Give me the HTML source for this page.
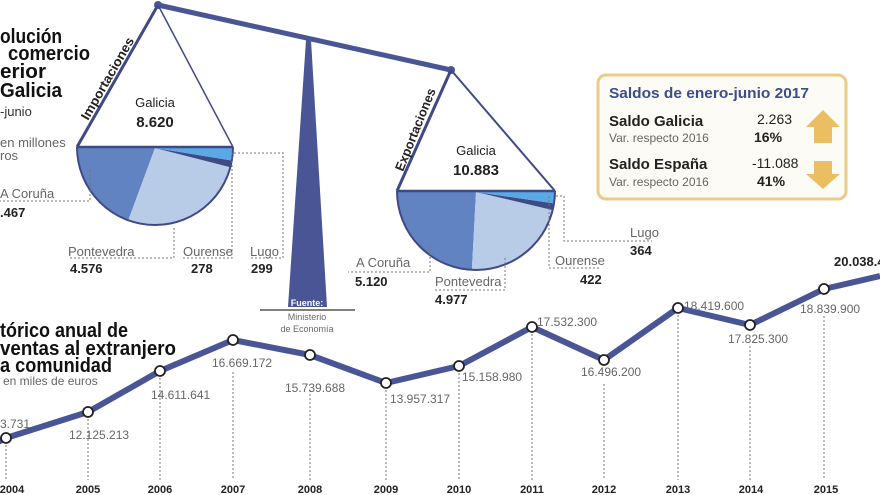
<!DOCTYPE html>
<html><head><meta charset="utf-8"><style>
html,body{margin:0;padding:0;background:#fff;}
svg{display:block;font-family:"Liberation Sans",sans-serif;}
.g{fill:#666;font-size:12px;}
.b{fill:#222;font-weight:bold;font-size:13px;}
.lbl{fill:#666;font-size:13px;}
.yr{fill:#222;font-weight:bold;font-size:11px;text-anchor:middle;}
.t{fill:#111;font-weight:bold;font-size:20px;}
.d{stroke:#777;stroke-width:1;stroke-dasharray:2,2;fill:none;}
</style></head><body>
<svg width="880" height="495" viewBox="0 0 880 495">
<!-- titles -->
<text class="t" x="0" y="43" textLength="62" lengthAdjust="spacingAndGlyphs">olución</text>
<text class="t" x="8" y="60" textLength="82" lengthAdjust="spacingAndGlyphs">comercio</text>
<text class="t" x="0" y="78" textLength="46" lengthAdjust="spacingAndGlyphs">erior</text>
<text class="t" x="0" y="97" textLength="62" lengthAdjust="spacingAndGlyphs">Galicia</text>
<text x="0" y="116" fill="#333" font-size="13">-junio</text>
<text x="0" y="147" fill="#666" font-size="13">en millones</text>
<text x="0" y="160" fill="#666" font-size="13">ros</text>
<text class="lbl" x="0" y="198">A Coruña</text>
<text class="b" x="0" y="217">.467</text>

<!-- pivot -->
<polygon points="306,40 311,40 327,307 288,307" fill="#4a5596"/>
<line x1="260" y1="310" x2="355" y2="310" stroke="#333" stroke-width="1.2"/>
<text x="307" y="306" fill="#fff" font-size="9" font-weight="bold" text-anchor="middle">Fuente:</text>
<text x="307" y="320" fill="#666" font-size="9" text-anchor="middle">Ministerio</text>
<text x="307" y="332" fill="#666" font-size="9" text-anchor="middle">de Economía</text>

<!-- beam -->
<line x1="158" y1="5" x2="451" y2="70" stroke="#4a5596" stroke-width="5"/>
<circle cx="158" cy="5" r="4" fill="#4a5596"/>
<circle cx="451" cy="70" r="4" fill="#4a5596"/>

<!-- left pan -->
<line x1="158" y1="5" x2="77" y2="147" stroke="#3f4a85" stroke-width="3"/>
<line x1="158" y1="5" x2="233" y2="147" stroke="#3f4a85" stroke-width="1.5"/>
<path d="M155,148 L77,148 A78,78 0 0 0 128.3,220.3 Z" fill="#6283c2"/>
<path d="M155,148 L128.3,220.3 A78,78 0 0 0 230.3,167.2 Z" fill="#b8cce8"/>
<path d="M155,148 L230.3,167.2 A78,78 0 0 0 231.8,160.5 Z" fill="#3f4a85"/>
<path d="M155,148 L231.8,160.5 A78,78 0 0 0 233,148 Z" fill="#5aa8e6"/>
<path d="M77,147 A78,78 0 0 0 233,147" fill="none" stroke="#3f4a85" stroke-width="2"/>
<line x1="77" y1="147" x2="233" y2="147" stroke="#3f4a85" stroke-width="2.5"/>
<text x="155" y="107" fill="#222" font-size="13" text-anchor="middle">Galicia</text>
<text x="155" y="127" fill="#222" font-size="15" font-weight="bold" text-anchor="middle">8.620</text>
<text transform="translate(88,121) rotate(-60)" fill="#222" font-size="13" font-weight="bold" textLength="93" lengthAdjust="spacingAndGlyphs">Importaciones</text>

<!-- left leaders -->
<polyline class="d" points="90,170 90,201 0,201"/>
<polyline class="d" points="174,228 174,258 68,258"/>
<polyline class="d" points="232,153 232,258 182,258"/>
<polyline class="d" points="234,153 283,153 283,258 250,258"/>
<text class="lbl" x="68" y="256">Pontevedra</text>
<text class="b" x="70" y="273">4.576</text>
<text class="lbl" x="183" y="256">Ourense</text>
<text class="b" x="191" y="273">278</text>
<text class="lbl" x="250" y="256">Lugo</text>
<text class="b" x="251" y="273">299</text>

<!-- right pan -->
<line x1="451" y1="70" x2="397" y2="191" stroke="#3f4a85" stroke-width="3"/>
<line x1="451" y1="70" x2="555" y2="191" stroke="#3f4a85" stroke-width="2"/>
<path d="M476,192 L397,192 A79,79 0 0 0 471.9,269.9 Z" fill="#6283c2"/>
<path d="M476,192 L471.9,269.9 A79,79 0 0 0 552.7,210.1 Z" fill="#b8cce8"/>
<path d="M476,192 L552.7,210.1 A79,79 0 0 0 554,203.4 Z" fill="#3f4a85"/>
<path d="M476,192 L554,203.4 A79,79 0 0 0 555,192 Z" fill="#5aa8e6"/>
<path d="M397,191 A79,79 0 0 0 555,191" fill="none" stroke="#3f4a85" stroke-width="2"/>
<line x1="397" y1="191" x2="555" y2="191" stroke="#3f4a85" stroke-width="2.5"/>
<text x="476" y="155" fill="#222" font-size="13" text-anchor="middle">Galicia</text>
<text x="476" y="175" fill="#222" font-size="15" font-weight="bold" text-anchor="middle">10.883</text>
<text transform="translate(403,172) rotate(-68)" fill="#222" font-size="13" font-weight="bold" textLength="88" lengthAdjust="spacingAndGlyphs">Exportaciones</text>

<polyline class="d" points="430,245 430,272 348,272"/>
<polyline class="d" points="505,258 505,290 435,290"/>
<polyline class="d" points="549,196 549,268 601,268"/>
<polyline class="d" points="556,196 564,196 564,241 652,241"/>
<text class="lbl" x="356" y="267">A Coruña</text>
<text class="b" x="355" y="286">5.120</text>
<text class="lbl" x="435" y="286">Pontevedra</text>
<text class="b" x="435" y="304">4.977</text>
<text class="lbl" x="555" y="265">Ourense</text>
<text class="b" x="580" y="284">422</text>
<text class="lbl" x="630" y="237">Lugo</text>
<text class="b" x="630" y="255">364</text>

<!-- saldos box -->
<rect x="598" y="75" width="248" height="124" rx="8" fill="#fdfbf6" stroke="#e9cc86" stroke-width="3"/>
<text x="609" y="98" fill="#3a4e8c" font-size="15" font-weight="bold" textLength="200" lengthAdjust="spacingAndGlyphs">Saldos de enero-junio 2017</text>
<text x="609" y="126" fill="#222" font-size="15" font-weight="bold">Saldo Galicia</text>
<text x="609" y="142" fill="#666" font-size="12">Var. respecto 2016</text>
<text x="757" y="124" fill="#222" font-size="14">2.263</text>
<text x="754" y="142" fill="#222" font-size="14" font-weight="bold">16%</text>
<text x="609" y="169" fill="#222" font-size="15" font-weight="bold">Saldo España</text>
<text x="609" y="186" fill="#666" font-size="12">Var. respecto 2016</text>
<text x="752" y="168" fill="#222" font-size="14">-11.088</text>
<text x="757" y="186" fill="#222" font-size="14" font-weight="bold">41%</text>
<polygon points="823,110 840,127 832,127 832,143 814,143 814,127 806,127" fill="#ebbe62"/>
<polygon points="814,161 832,161 832,174 840,174 823,189 806,174 814,174" fill="#ebbe62"/>

<!-- bottom title -->
<text class="t" x="0" y="337" textLength="128" lengthAdjust="spacingAndGlyphs">tórico anual de</text>
<text class="t" x="0" y="355" textLength="176" lengthAdjust="spacingAndGlyphs">ventas al extranjero</text>
<text class="t" x="0" y="372" textLength="112" lengthAdjust="spacingAndGlyphs">a comunidad</text>
<text x="3" y="385" fill="#666" font-size="12">en miles de euros</text>

<!-- dotted verticals -->
<g class="d">
<line x1="6" y1="445" x2="6" y2="480"/><line x1="88" y1="419" x2="88" y2="480"/>
<line x1="160" y1="378" x2="160" y2="480"/><line x1="233" y1="372" x2="233" y2="480"/>
<line x1="310" y1="390" x2="310" y2="480"/><line x1="386" y1="390" x2="386" y2="480"/>
<line x1="459" y1="373" x2="459" y2="480"/><line x1="532" y1="334" x2="532" y2="480"/>
<line x1="604" y1="384" x2="604" y2="480"/><line x1="678" y1="315" x2="678" y2="480"/>
<line x1="750" y1="346" x2="750" y2="480"/><line x1="824" y1="316" x2="824" y2="480"/>
</g>

<!-- line -->
<polyline points="-10,446 6,438 88,412 160,371 233,340 310,355 386,383 459,366 532,327 604,360 678,308 750,325 824,289 880,276" fill="none" stroke="#4a5596" stroke-width="6" stroke-linejoin="round"/>
<g fill="#fff" stroke="#222" stroke-width="1.8">
<circle cx="6" cy="438" r="5"/><circle cx="88" cy="412" r="5"/><circle cx="160" cy="371" r="5"/>
<circle cx="233" cy="340" r="5"/><circle cx="310" cy="355" r="5"/><circle cx="386" cy="383" r="5"/>
<circle cx="459" cy="366" r="5"/><circle cx="532" cy="327" r="5"/><circle cx="604" cy="360" r="5"/>
<circle cx="678" cy="308" r="5"/><circle cx="750" cy="325" r="5"/><circle cx="824" cy="289" r="5"/>
</g>

<text class="g" x="0" y="428">3.731</text>
<text class="g" x="69" y="439">12.125.213</text>
<text class="g" x="151" y="399">14.611.641</text>
<text class="g" x="212" y="367">16.669.172</text>
<text class="g" x="285" y="392">15.739.688</text>
<text class="g" x="390" y="403">13.957.317</text>
<text class="g" x="462" y="381">15.158.980</text>
<text class="g" x="537" y="326">17.532.300</text>
<text class="g" x="581" y="376">16.496.200</text>
<text class="g" x="684" y="310">18.419.600</text>
<text class="g" x="728" y="343">17.825.300</text>
<text class="g" x="800" y="313">18.839.900</text>
<text class="b" x="834" y="266">20.038.4</text>

<g class="yr">
<text x="12" y="493">2004</text><text x="88" y="493">2005</text><text x="160" y="493">2006</text>
<text x="233" y="493">2007</text><text x="310" y="493">2008</text><text x="386" y="493">2009</text>
<text x="459" y="493">2010</text><text x="532" y="493">2011</text><text x="604" y="493">2012</text>
<text x="678" y="493">2013</text><text x="751" y="493">2014</text><text x="826" y="493">2015</text>
</g>
</svg>
</body></html>
